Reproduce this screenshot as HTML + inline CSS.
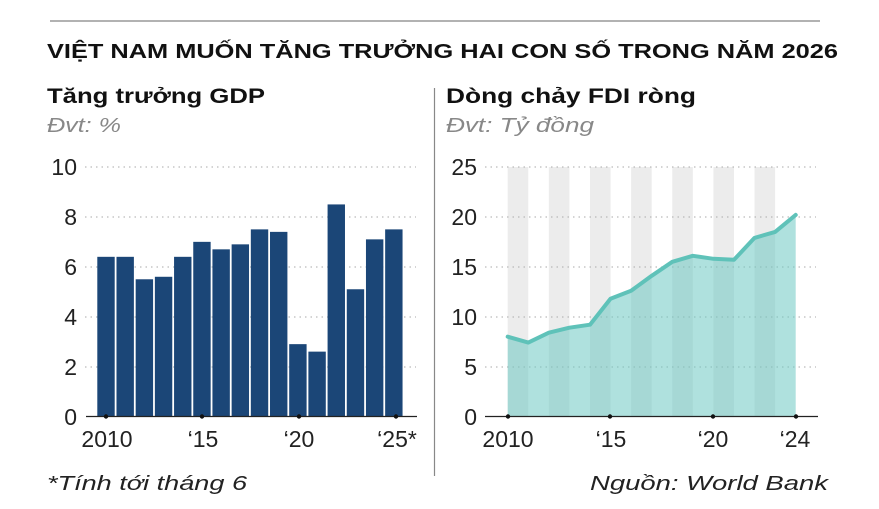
<!DOCTYPE html>
<html><head><meta charset="utf-8"><style>html,body{margin:0;padding:0;background:#fff}svg{display:block}</style></head><body>
<svg width="879" height="509" viewBox="0 0 879 509" xmlns="http://www.w3.org/2000/svg" font-family="Liberation Sans, sans-serif">
<line x1="50" y1="21" x2="820" y2="21" stroke="#999" stroke-width="1.5"/>
<text x="47" y="58" font-size="20" font-weight="bold" fill="#111" textLength="791" lengthAdjust="spacingAndGlyphs">VIỆT NAM MUỐN TĂNG TRƯỞNG HAI CON SỐ TRONG NĂM 2026</text>
<text x="47" y="103" font-size="21" font-weight="bold" fill="#111" textLength="218" lengthAdjust="spacingAndGlyphs">Tăng trưởng GDP</text>
<text x="47" y="132" font-size="20" font-style="italic" fill="#888" textLength="74" lengthAdjust="spacingAndGlyphs">Đvt: %</text>
<text x="446" y="103" font-size="21" font-weight="bold" fill="#111" textLength="250" lengthAdjust="spacingAndGlyphs">Dòng chảy FDI ròng</text>
<text x="446" y="132" font-size="20" font-style="italic" fill="#888" textLength="148" lengthAdjust="spacingAndGlyphs">Đvt: Tỷ đồng</text>
<line x1="434.5" y1="88" x2="434.5" y2="476" stroke="#888" stroke-width="1.2"/>

<!-- left grid -->
<g stroke="#aaa" stroke-width="1" stroke-dasharray="1.5,4">
<line x1="85" y1="167" x2="416" y2="167"/><line x1="85" y1="217" x2="416" y2="217"/><line x1="85" y1="267" x2="416" y2="267"/><line x1="85" y1="317" x2="416" y2="317"/><line x1="85" y1="367" x2="416" y2="367"/>
</g>
<g font-size="23" fill="#222" text-anchor="end">
<text x="77" y="175">10</text><text x="77" y="225">8</text><text x="77" y="275">6</text><text x="77" y="325">4</text><text x="77" y="375">2</text><text x="77" y="425">0</text>
</g>
<g fill="#1b4677" id="bars"></g>
<line x1="86" y1="416.5" x2="417" y2="416.5" stroke="#222" stroke-width="1.3"/>
<g fill="#111"><circle cx="106" cy="416.5" r="2.2"/><circle cx="202" cy="416.5" r="2.2"/><circle cx="299" cy="416.5" r="2.2"/><circle cx="396" cy="416.5" r="2.2"/></g>
<g font-size="23" fill="#222" text-anchor="middle">
<text x="107" y="447">2010</text><text x="203" y="447">‘15</text><text x="299" y="447">‘20</text><text x="397" y="447">‘25*</text>
</g>

<!-- right chart -->
<g fill="#ececec" id="stripes"></g>
<g stroke="#aaa" stroke-width="1" stroke-dasharray="1.5,4">
<line x1="485" y1="167" x2="816" y2="167"/><line x1="485" y1="217" x2="816" y2="217"/><line x1="485" y1="267" x2="816" y2="267"/><line x1="485" y1="317" x2="816" y2="317"/><line x1="485" y1="367" x2="816" y2="367"/>
</g>
<g font-size="23" fill="#222" text-anchor="end">
<text x="477" y="175">25</text><text x="477" y="225">20</text><text x="477" y="275">15</text><text x="477" y="325">10</text><text x="477" y="375">5</text><text x="477" y="425">0</text>
</g>
<path id="area" fill="rgba(110,200,195,0.55)" stroke="none"/>
<path id="ln" fill="none" stroke="#5fc2b9" stroke-width="4" stroke-linejoin="round" stroke-linecap="round"/>
<line x1="485" y1="416.5" x2="818" y2="416.5" stroke="#222" stroke-width="1.3"/>
<g fill="#111"><circle cx="508" cy="416.5" r="2.2"/><circle cx="610" cy="416.5" r="2.2"/><circle cx="713" cy="416.5" r="2.2"/><circle cx="796" cy="416.5" r="2.2"/></g>
<g font-size="23" fill="#222" text-anchor="middle">
<text x="508" y="447">2010</text><text x="611" y="447">‘15</text><text x="713" y="447">‘20</text><text x="795" y="447">‘24</text>
</g>

<text x="47" y="490" font-size="20" font-style="italic" fill="#222" textLength="200" lengthAdjust="spacingAndGlyphs">*Tính tới tháng 6</text>
<text x="828" y="490" font-size="20" font-style="italic" fill="#222" text-anchor="end" textLength="238" lengthAdjust="spacingAndGlyphs">Nguồn: World Bank</text>
</svg>
<script>
var ns="http://www.w3.org/2000/svg";
var g=[6.4,6.4,5.5,5.6,6.4,7.0,6.7,6.9,7.5,7.4,2.9,2.6,8.5,5.1,7.1,7.5];
var b=document.getElementById("bars");
g.forEach(function(v,i){var r=document.createElementNS(ns,"rect");var x=97.3+i*19.19;var h=v*24.95;r.setAttribute("x",x);r.setAttribute("width",17.4);r.setAttribute("y",416.5-h);r.setAttribute("height",h);b.appendChild(r);});
var s=document.getElementById("stripes");
for(var k=0;k<7;k++){var r=document.createElementNS(ns,"rect");var x0=507.7+2*k*20.57;r.setAttribute("x",x0);r.setAttribute("width",20.57);r.setAttribute("y",167);r.setAttribute("height",249.5);s.appendChild(r);}
var f=[8.0,7.4,8.4,8.9,9.2,11.8,12.6,14.1,15.5,16.1,15.8,15.7,17.9,18.5,20.2];
var pts=f.map(function(v,i){return (507.7+i*20.57).toFixed(1)+","+(416.5-v*9.98).toFixed(1);});
document.getElementById("ln").setAttribute("d","M"+pts.join("L"));
document.getElementById("area").setAttribute("d","M507.7,416.5L"+pts.join("L")+"L795.7,416.5Z");
</script>
</body></html>
